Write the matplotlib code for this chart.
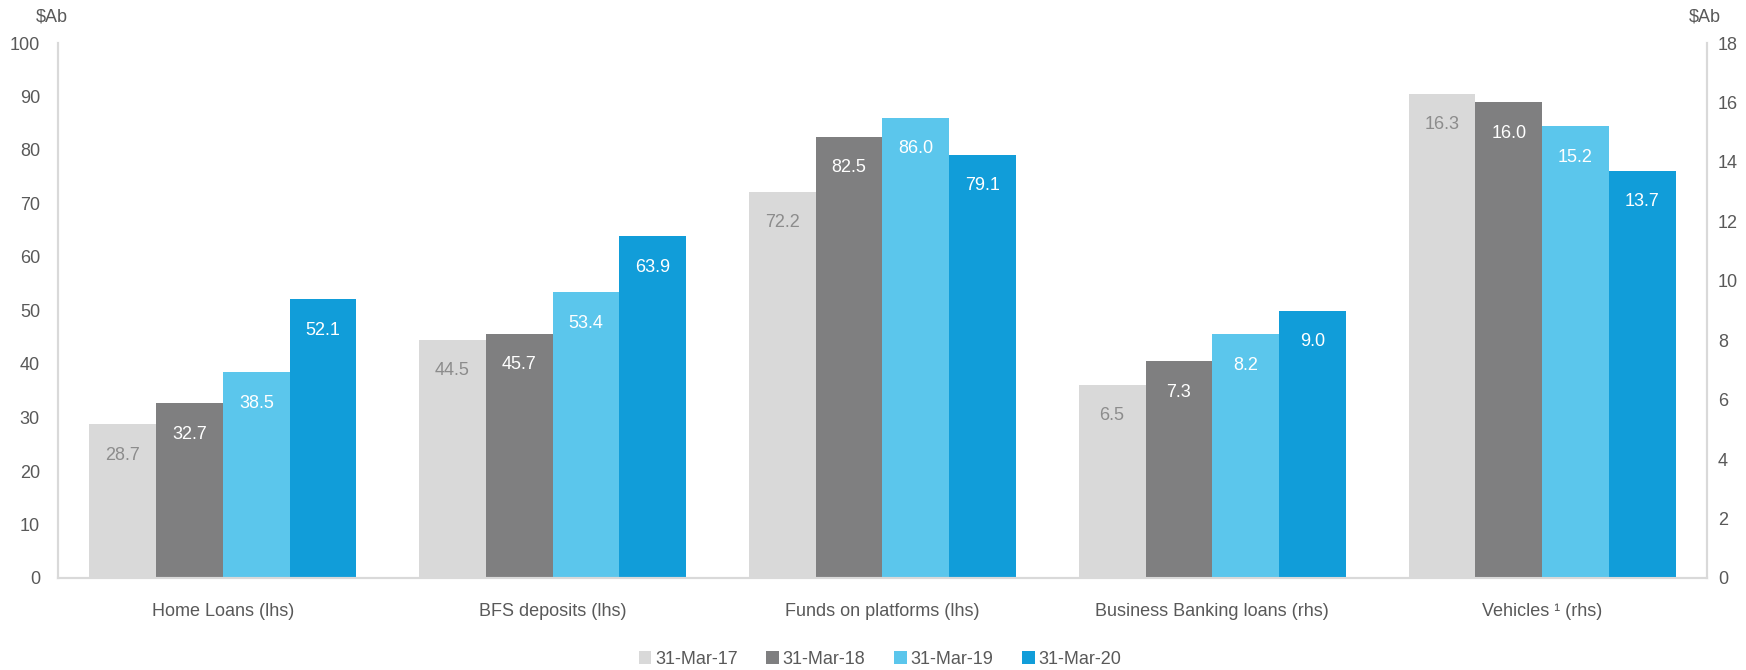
import matplotlib
matplotlib.use("Agg")
import matplotlib.pyplot as plt
from matplotlib.patches import Patch
import numpy as np

plt.rcParams['font.family'] = ['Liberation Sans', 'DejaVu Sans']

categories = ["Home Loans (lhs)", "BFS deposits (lhs)", "Funds on platforms (lhs)",
              "Business Banking loans (rhs)", "Vehicles \u00b9 (rhs)"]
axis_side = ["lhs", "lhs", "lhs", "rhs", "rhs"]
series_names = ["31-Mar-17", "31-Mar-18", "31-Mar-19", "31-Mar-20"]
values = {
    "31-Mar-17": [28.7, 44.5, 72.2, 6.5, 16.3],
    "31-Mar-18": [32.7, 45.7, 82.5, 7.3, 16.0],
    "31-Mar-19": [38.5, 53.4, 86.0, 8.2, 15.2],
    "31-Mar-20": [52.1, 63.9, 79.1, 9.0, 13.7],
}
colors = ["#D9D9D9", "#7F7F80", "#5BC6EC", "#119DD9"]
label_colors = ["#8C8C8C", "white", "white", "white"]
left_ticks = list(range(0, 101, 10))
right_ticks = list(range(0, 19, 2))

W, H = 1746, 670
fig = plt.figure(figsize=(W / 100, H / 100), dpi=100)
ax = fig.add_axes([58 / W, 1 - 578 / H, (1707 - 58) / W, (578 - 43) / H])
ax2 = ax.twinx()

tick_color = "#595959"
spine_color = "#D9D9D9"
fs = 13

ax.set_xlim(-0.5, len(categories) - 0.5)
ax.set_ylim(0, 100)
ax2.set_ylim(0, 18)
ax.set_yticks(left_ticks)
ax2.set_yticks(right_ticks)

bw = 0.2025
x = np.arange(len(categories))
for si, name in enumerate(series_names):
    offs = (si - 1.5) * bw
    for ci in range(len(categories)):
        target = ax if axis_side[ci] == "lhs" else ax2
        v = values[name][ci]
        target.bar(x[ci] + offs, v, width=bw, color=colors[si], linewidth=0, zorder=2)
        ymax = target.get_ylim()[1]
        target.text(x[ci] + offs, v - ymax * 0.058, f"{v:.1f}", ha="center", va="center",
                    color=label_colors[si], fontsize=fs, zorder=3)

ax.set_xticks(x)
ax.set_xticklabels(categories, fontsize=fs, color=tick_color)
for a in (ax, ax2):
    a.tick_params(axis="both", length=0, labelsize=fs, labelcolor=tick_color)
    for s in a.spines.values():
        s.set_color(spine_color)
        s.set_linewidth(1.5)
    a.spines["top"].set_visible(False)
ax.tick_params(axis="x", pad=18)
ax.tick_params(axis="y", pad=13)
ax2.tick_params(axis="y", pad=8)

fig.text(52 / W, 1 - 17 / H, "$Ab", ha="center", va="center", fontsize=13, color=tick_color)
fig.text(1705 / W, 1 - 17 / H, "$Ab", ha="center", va="center", fontsize=13, color=tick_color)

handles = [Patch(facecolor=c, edgecolor="none", label=n) for c, n in zip(colors, series_names)]
leg = fig.legend(handles=handles, loc="center", bbox_to_anchor=(880 / W, 1 - 659 / H), ncol=4,
                 frameon=False, fontsize=fs, handlelength=0.7, handleheight=0.7,
                 handletextpad=0.2, columnspacing=1.6)
for t in leg.get_texts():
    t.set_color(tick_color)

fig.savefig("out.png", dpi=100)
